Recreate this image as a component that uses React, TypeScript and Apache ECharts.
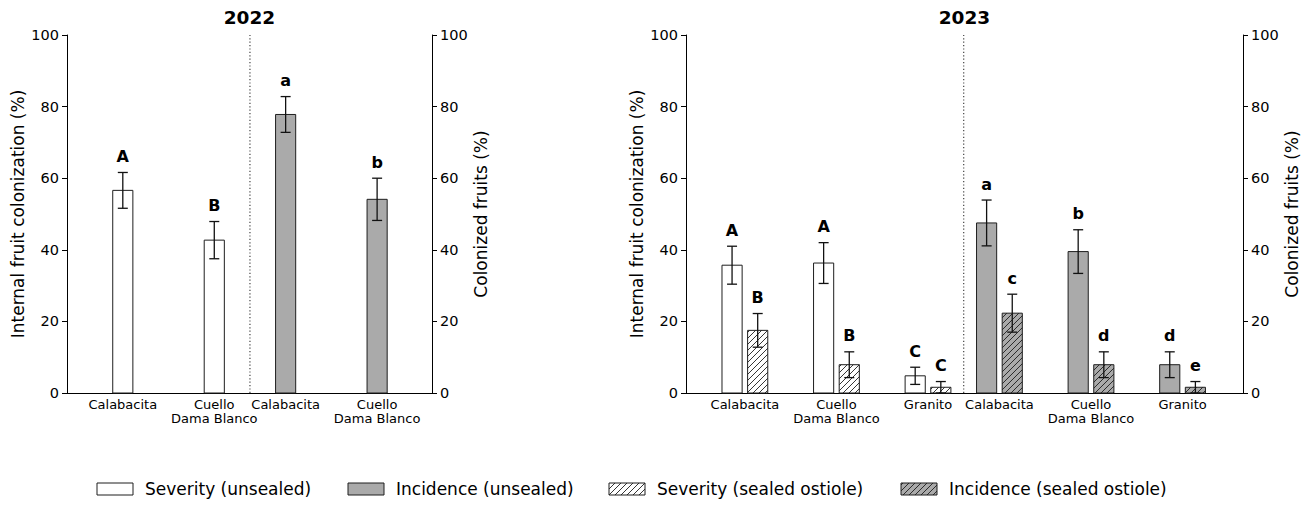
import React, { useEffect, useRef } from "react";
import * as echarts from "echarts";

// ---------------- data ----------------
const cultivars2022 = ["Calabacita", "Cuello\nDama Blanco"];
const cultivars2023 = ["Calabacita", "Cuello\nDama Blanco", "Granito"];

const sev2022 = [56.6, 42.7];
const sev2022Err = [5.0, 5.2];
const sev2022Letters = ["A", "B"];
const inc2022 = [77.8, 54.1];
const inc2022Err = [5.0, 5.9];
const inc2022Letters = ["a", "b"];

const sevUnsealed2023 = [35.7, 36.3, 4.8];
const sevUnsealed2023Err = [5.3, 5.7, 2.4];
const sevUnsealed2023Letters = ["A", "A", "C"];
const sevSealed2023 = [17.5, 7.9, 1.6];
const sevSealed2023Err = [4.7, 3.6, 1.6];
const sevSealed2023Letters = ["B", "B", "C"];
const incUnsealed2023 = [47.5, 39.5, 7.9];
const incUnsealed2023Err = [6.4, 6.1, 3.6];
const incUnsealed2023Letters = ["a", "b", "d"];
const incSealed2023 = [22.3, 7.9, 1.6];
const incSealed2023Err = [5.3, 3.6, 1.6];
const incSealed2023Letters = ["c", "d", "e"];

const panelTitles = ["2022", "2023"];
const yTickValues = [0, 20, 40, 60, 80, 100];
const leftAxisName = "Internal fruit colonization (%)";
const rightAxisName = "Colonized fruits (%)";
const legendNames = [
  "Severity (unsealed)",
  "Incidence (unsealed)",
  "Severity (sealed ostiole)",
  "Incidence (sealed ostiole)",
];

// ---------------- layout / style ----------------
const W = 1303;
const H = 508;
const GRID_TOP = 35;
const GRID_BOTTOM = 393;
const panels = [
  { left: 67, right: 432, xMin: -0.61, xMax: 3.38 },
  { left: 686, right: 1243, xMin: -0.643, xMax: 5.44 },
];
const INC_SHIFT = 0.78;
const PAIR_OFF = 0.14;
const BAR_W = 0.22;
const WHITE = "#ffffff";
const GRAY = "#aaaaaa";
const EDGE = "#1e1e1e";
const HATCH_STEP = 6;
const FONT = '"DejaVu Sans", "Liberation Sans", sans-serif';

const legendFills = [WHITE, GRAY, WHITE, GRAY];
const legendHatched = [false, false, true, true];
const legendBoxX = [97, 348, 609, 901];
const LEGEND_Y = 483;
const LEGEND_BOX_W = 36;
const LEGEND_BOX_H = 12;

function hatchLines(x0: number, y0: number, x1: number, y1: number, step: number) {
  const out: number[][] = [];
  const cStart = Math.ceil((x0 + y0) / step) * step;
  for (let c = cStart; c <= x1 + y1; c += step) {
    const sx = Math.max(x0, c - y1);
    const ex = Math.min(x1, c - y0);
    if (ex - sx > 0.3) out.push([sx, c - sx, ex, c - ex]);
  }
  return out;
}

function barSeries(
  name: string,
  grid: number,
  xs: number[],
  vals: number[],
  errs: number[],
  letters: string[],
  fill: string,
  hatched: boolean
) {
  return {
    type: "custom",
    name,
    xAxisIndex: grid,
    yAxisIndex: grid * 2,
    data: xs.map((x, i) => [x, vals[i], errs[i]]),
    encode: { x: 0, y: 1 },
    clip: false,
    silent: true,
    renderItem: (params: any, api: any) => {
      const i = params.dataIndex;
      const x = api.value(0) as number;
      const v = api.value(1) as number;
      const e = api.value(2) as number;
      const p0 = api.coord([x, 0]);
      const p1 = api.coord([x, v]);
      const w = api.size([BAR_W, 0])[0];
      const L = p0[0] - w / 2;
      const R = p0[0] + w / 2;
      const T = p1[1];
      const B = p0[1];
      const children: any[] = [
        { type: "rect", shape: { x: L, y: T, width: w, height: B - T }, style: { fill, stroke: "none" } },
      ];
      if (hatched) {
        hatchLines(L, T, R, B, HATCH_STEP).forEach((s) =>
          children.push({
            type: "line",
            shape: { x1: s[0], y1: s[1], x2: s[2], y2: s[3] },
            style: { stroke: EDGE, lineWidth: 0.9 },
          })
        );
      }
      children.push({
        type: "rect",
        shape: { x: L, y: T, width: w, height: B - T },
        style: { fill: "none", stroke: EDGE, lineWidth: 1 },
      });
      const hi = api.coord([x, v + e]);
      const lo = api.coord([x, Math.max(0, v - e)]);
      const cap = 5;
      const es = { stroke: "#111", lineWidth: 1.3 };
      children.push({ type: "line", shape: { x1: p0[0], y1: hi[1], x2: p0[0], y2: lo[1] }, style: es });
      children.push({ type: "line", shape: { x1: p0[0] - cap, y1: hi[1], x2: p0[0] + cap, y2: hi[1] }, style: es });
      children.push({ type: "line", shape: { x1: p0[0] - cap, y1: lo[1], x2: p0[0] + cap, y2: lo[1] }, style: es });
      children.push({
        type: "text",
        x: p0[0],
        y: hi[1] - 16,
        style: {
          text: letters[i],
          font: `bold 16px ${FONT}`,
          fill: "#000",
          align: "center",
          verticalAlign: "middle",
          textAlign: "center",
          textVerticalAlign: "middle",
        },
      });
      return { type: "group", children };
    },
  };
}

function dividerSeries(grid: number, d: number) {
  return {
    type: "custom",
    name: "divider" + grid,
    xAxisIndex: grid,
    yAxisIndex: grid * 2,
    data: [[d, 100]],
    encode: { x: 0, y: 1 },
    clip: false,
    silent: true,
    renderItem: (params: any, api: any) => {
      const a = api.coord([api.value(0), 0]);
      const b = api.coord([api.value(0), api.value(1)]);
      return {
        type: "line",
        shape: { x1: a[0], y1: a[1], x2: b[0], y2: b[1] },
        style: { stroke: "#333", lineWidth: 1.1, lineDash: [1.2, 2.2] },
      };
    },
  };
}

function buildOption() {
  const n22 = cultivars2022.length;
  const n23 = cultivars2023.length;
  const sevX22 = cultivars2022.map((_, i) => i);
  const incX22 = cultivars2022.map((_, i) => n22 - 1 + INC_SHIFT + i);
  const sevX23 = cultivars2023.map((_, i) => i);
  const incX23 = cultivars2023.map((_, i) => n23 - 1 + INC_SHIFT + i);

  const labelPos = [
    { pos: [...sevX22, ...incX22], labels: [...cultivars2022, ...cultivars2022] },
    { pos: [...sevX23, ...incX23], labels: [...cultivars2023, ...cultivars2023] },
  ];

  const grids = panels.map((p) => ({
    left: p.left,
    width: p.right - p.left,
    top: GRID_TOP,
    height: GRID_BOTTOM - GRID_TOP,
    containLabel: false,
  }));

  const xAxes = panels.map((p, g) => ({
    type: "value",
    gridIndex: g,
    min: p.xMin,
    max: p.xMax,
    splitLine: { show: false },
    axisTick: { show: false },
    axisLine: { show: true, onZero: false, lineStyle: { color: "#000", width: 1 } },
    axisLabel: {
      customValues: labelPos[g].pos,
      formatter: (v: number) => {
        const idx = labelPos[g].pos.findIndex((q) => Math.abs(q - v) < 1e-6);
        return idx >= 0 ? labelPos[g].labels[idx] : "";
      },
      fontSize: 13,
      lineHeight: 14.5,
      color: "#000",
      margin: 4,
      fontFamily: FONT,
      hideOverlap: false,
    },
  }));

  const yAxes: any[] = [];
  panels.forEach((_, g) => {
    ["left", "right"].forEach((side) => {
      yAxes.push({
        type: "value",
        gridIndex: g,
        position: side,
        min: yTickValues[0],
        max: yTickValues[yTickValues.length - 1],
        interval: yTickValues[1] - yTickValues[0],
        name: side === "left" ? leftAxisName : rightAxisName,
        nameLocation: "middle",
        nameRotate: 90,
        nameGap: side === "left" ? 41 : 40,
        nameTextStyle: { fontSize: 17, color: "#000", fontFamily: FONT },
        splitLine: { show: false },
        axisLine: { show: true, onZero: false, lineStyle: { color: "#000", width: 1 } },
        axisTick: { show: true, length: 5, lineStyle: { color: "#000", width: 1 } },
        axisLabel: { fontSize: 14.5, color: "#000", margin: 8, fontFamily: FONT },
      });
    });
  });

  const series: any[] = [
    barSeries(legendNames[0], 0, sevX22, sev2022, sev2022Err, sev2022Letters, WHITE, false),
    barSeries(legendNames[1], 0, incX22, inc2022, inc2022Err, inc2022Letters, GRAY, false),
    dividerSeries(0, (n22 - 1 + n22 - 1 + INC_SHIFT) / 2),
    barSeries(legendNames[0], 1, sevX23.map((x) => x - PAIR_OFF), sevUnsealed2023, sevUnsealed2023Err, sevUnsealed2023Letters, WHITE, false),
    barSeries(legendNames[2], 1, sevX23.map((x) => x + PAIR_OFF), sevSealed2023, sevSealed2023Err, sevSealed2023Letters, WHITE, true),
    barSeries(legendNames[1], 1, incX23.map((x) => x - PAIR_OFF), incUnsealed2023, incUnsealed2023Err, incUnsealed2023Letters, GRAY, false),
    barSeries(legendNames[3], 1, incX23.map((x) => x + PAIR_OFF), incSealed2023, incSealed2023Err, incSealed2023Letters, GRAY, true),
    dividerSeries(1, (n23 - 1 + n23 - 1 + INC_SHIFT) / 2),
  ];

  const graphics: any[] = [];
  panels.forEach((p, g) => {
    graphics.push({
      type: "text",
      x: (p.left + p.right) / 2,
      y: 17,
      style: {
        text: panelTitles[g],
        font: `bold 18.5px ${FONT}`,
        fill: "#000",
        align: "center",
        verticalAlign: "middle",
        textAlign: "center",
        textVerticalAlign: "middle",
      },
    });
  });
  legendNames.forEach((nm, k) => {
    const x0 = legendBoxX[k];
    const y0 = LEGEND_Y;
    graphics.push({
      type: "rect",
      shape: { x: x0, y: y0, width: LEGEND_BOX_W, height: LEGEND_BOX_H },
      style: { fill: legendFills[k], stroke: "none" },
    });
    if (legendHatched[k]) {
      hatchLines(x0, y0, x0 + LEGEND_BOX_W, y0 + LEGEND_BOX_H, HATCH_STEP).forEach((s) =>
        graphics.push({
          type: "line",
          shape: { x1: s[0], y1: s[1], x2: s[2], y2: s[3] },
          style: { stroke: EDGE, lineWidth: 0.9 },
        })
      );
    }
    graphics.push({
      type: "rect",
      shape: { x: x0, y: y0, width: LEGEND_BOX_W, height: LEGEND_BOX_H },
      style: { fill: "none", stroke: EDGE, lineWidth: 1 },
    });
    graphics.push({
      type: "text",
      x: x0 + LEGEND_BOX_W + 12,
      y: y0 + LEGEND_BOX_H / 2,
      style: {
        text: nm,
        font: `17px ${FONT}`,
        fill: "#000",
        align: "left",
        verticalAlign: "middle",
        textAlign: "left",
        textVerticalAlign: "middle",
      },
    });
  });

  return {
    animation: false,
    backgroundColor: "#ffffff",
    textStyle: { fontFamily: FONT },
    grid: grids,
    xAxis: xAxes,
    yAxis: yAxes,
    series,
    graphic: { elements: graphics },
  };
}

export default function App() {
  const ref = useRef<HTMLDivElement>(null);
  useEffect(() => {
    document.body.style.margin = "0";
    if (!ref.current) return;
    const chart = echarts.init(ref.current, undefined, { renderer: "svg", width: W, height: H });
    chart.setOption(buildOption() as any);
    return () => chart.dispose();
  }, []);
  return <div ref={ref} style={{ width: W, height: H }} />;
}
